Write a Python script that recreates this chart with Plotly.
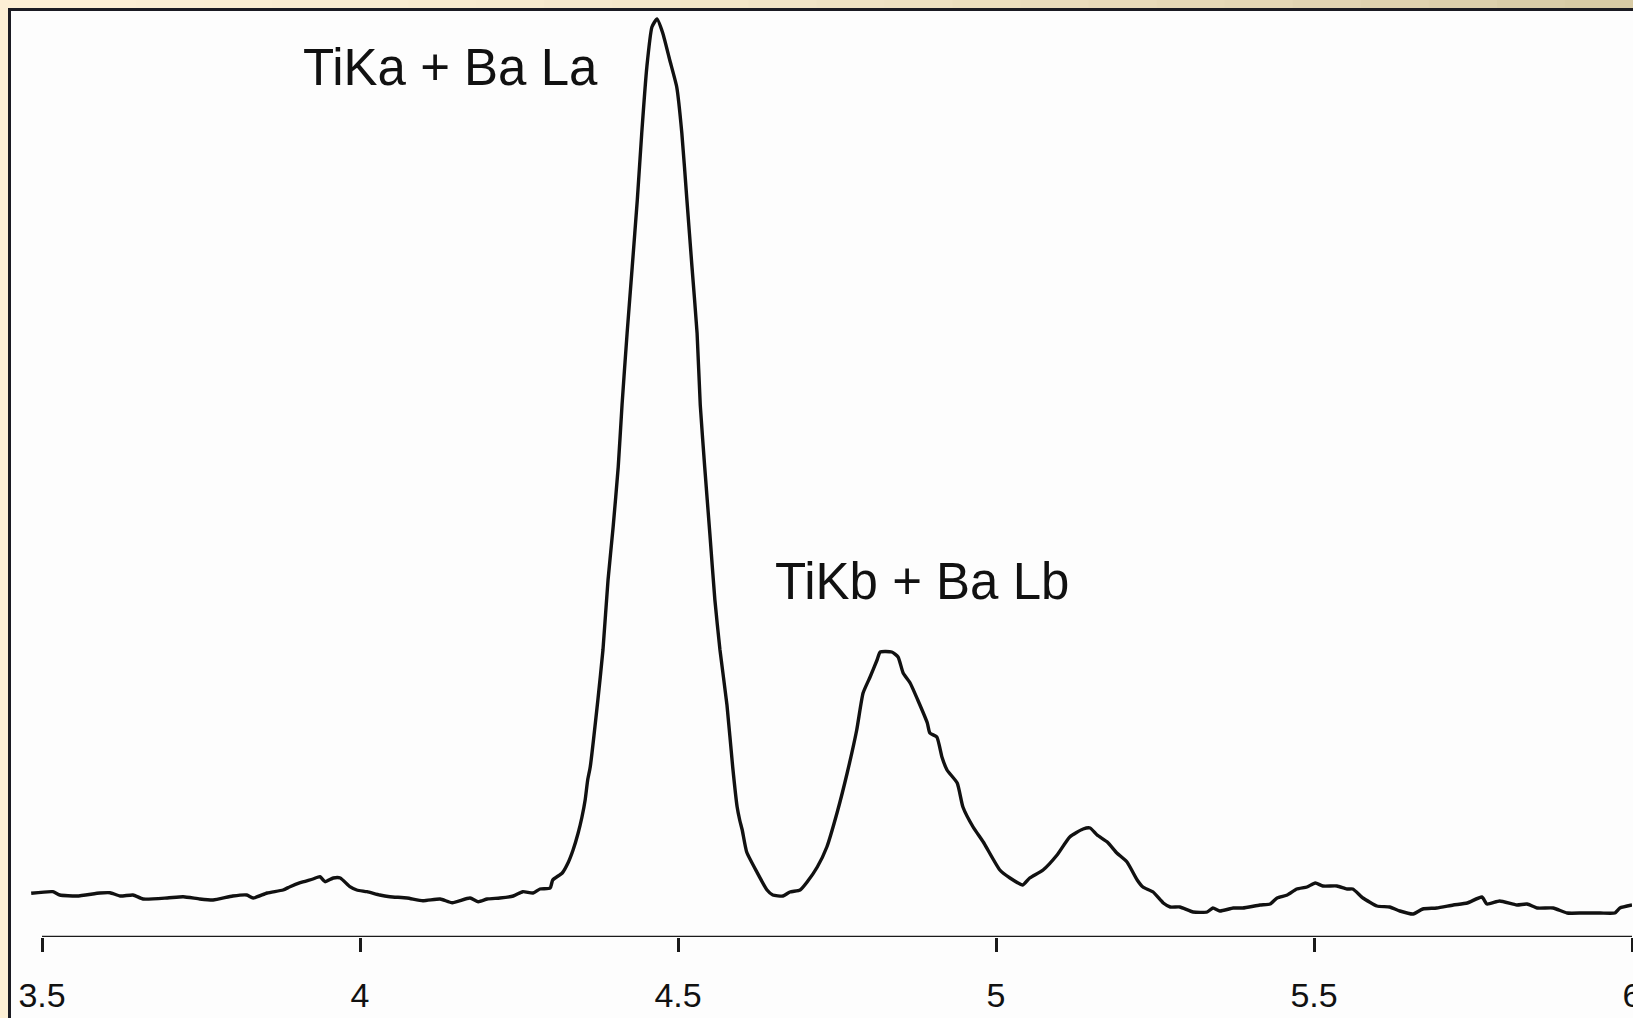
import plotly.graph_objects as go

# ---- data (energy in keV, intensity in arbitrary units) ----
energy_kev = [
    3.483, 3.517, 3.528, 3.555, 3.591, 3.607, 3.623, 3.643, 3.659, 3.697,
    3.722, 3.748, 3.769, 3.800, 3.822, 3.832, 3.854, 3.879, 3.890, 3.906,
    3.926, 3.937, 3.945, 3.958, 3.969, 3.984, 3.995, 4.011, 4.031, 4.047,
    4.074, 4.099, 4.126, 4.145, 4.173, 4.186, 4.200, 4.220, 4.241, 4.256,
    4.272, 4.283, 4.299, 4.303, 4.318, 4.327, 4.335, 4.343, 4.349, 4.354,
    4.358, 4.362, 4.374, 4.382, 4.390, 4.398, 4.406, 4.412, 4.420, 4.428,
    4.436, 4.443, 4.451, 4.459, 4.467, 4.476, 4.487, 4.498, 4.506, 4.514,
    4.522, 4.530, 4.535, 4.542, 4.550, 4.558, 4.566, 4.577, 4.586, 4.593,
    4.597, 4.601, 4.608, 4.624, 4.640, 4.649, 4.665, 4.676, 4.692, 4.703,
    4.719, 4.734, 4.750, 4.766, 4.781, 4.791, 4.802, 4.813, 4.818, 4.836,
    4.846, 4.854, 4.865, 4.877, 4.892, 4.896, 4.907, 4.915, 4.923, 4.939,
    4.948, 4.964, 4.980, 5.006, 5.022, 5.042, 5.053, 5.074, 5.096, 5.116,
    5.137, 5.148, 5.159, 5.175, 5.190, 5.206, 5.222, 5.231, 5.247, 5.263,
    5.274, 5.289, 5.310, 5.332, 5.341, 5.352, 5.373, 5.388, 5.415, 5.431,
    5.442, 5.458, 5.473, 5.489, 5.502, 5.514, 5.536, 5.552, 5.561, 5.577,
    5.599, 5.619, 5.635, 5.656, 5.671, 5.693, 5.719, 5.741, 5.764, 5.772,
    5.792, 5.819, 5.835, 5.851, 5.876, 5.898, 5.923, 5.950, 5.973, 5.981,
    6.000,
]
intensity = [
    43.7, 45.3, 42, 41, 44, 44.3, 41, 42, 38, 39,
    40.3, 38, 37, 41, 42, 39, 44, 47, 50.3, 54.3,
    58, 60.3, 55.3, 59, 59, 50.3, 47, 45.3, 42, 40.3,
    39, 36.3, 38, 34.3, 39, 35.3, 38, 39, 41, 45.3,
    44, 48, 49, 57, 64, 74, 87, 104, 120, 137,
    157, 170, 237, 287, 357, 410, 470, 532, 604, 670,
    737, 804, 870, 910, 918, 904, 877, 850, 804, 737,
    670, 604, 532, 470, 404, 337, 287, 232, 170, 130,
    117, 107, 85, 65, 47, 42, 41, 45, 47, 55,
    70, 90, 124, 164, 207, 244, 260, 277, 285, 285,
    280, 264, 254, 237, 214, 204, 200, 180, 167, 154,
    130, 110, 95, 67, 59, 52, 59, 67, 82, 100,
    108, 109, 102, 95, 84, 75, 57, 50, 45, 34,
    30, 30, 25, 25, 29, 26, 29, 29, 32, 33,
    39, 42, 48, 50, 54, 51, 51, 48, 48, 39,
    31, 30, 26, 23, 28, 29, 32, 34, 40, 33,
    36, 32, 33, 29, 29, 24, 24, 24, 24, 29,
    32,
]
tick_values = [3.5, 4.0, 4.5, 5.0, 5.5, 6.0]
tick_labels = ["3.5", "4", "4.5", "5", "5.5", "6"]
peak_labels = ["TiKa + Ba La", "TiKb + Ba Lb"]
peak_label_x = [4.1415, 4.8836]
peak_label_y = [870, 356]

# ---- layout geometry (pixels) ----
W, H = 1633, 1018
ML, MR, MT, MB = 31, 1, 10, 81
PW, PH = W - ML - MR, H - MT - MB
X_MIN, X_MAX = 3.4827, 6.0
Y_MIN, Y_MAX = 0, 927


def px_x(p):
    return (p - ML) / PW


def px_y(p):
    return (H - MB - p) / PH


CREAM = "#FCEFD5"
FONT = "Arial, Liberation Sans, sans-serif"

fig = go.Figure()
fig.add_trace(go.Scatter(
    x=energy_kev, y=intensity, mode="lines",
    line=dict(color="#111111", width=3.4, shape="spline", smoothing=0.5),
    hoverinfo="skip", showlegend=False,
))

shapes = []
# top strip gradient (cream to tan)
n = 24
c0 = (0xFC, 0xEF, 0xD5)
c1 = (0xD8, 0xCB, 0xA5)
for i in range(n):
    t = i / (n - 1)
    col = "rgb(%d,%d,%d)" % tuple(round(a + (b - a) * t ** 1.6) for a, b in zip(c0, c1))
    shapes.append(dict(type="rect", xref="paper", yref="paper", layer="below",
                       x0=px_x(W * i / n), x1=px_x(W * (i + 1) / n + 1),
                       y0=px_y(9), y1=px_y(-1), fillcolor=col, line=dict(width=0)))
# white panel with dark frame
shapes.append(dict(type="rect", xref="paper", yref="paper", layer="below",
                   x0=px_x(9.5), x1=px_x(W + 20), y0=px_y(H + 20), y1=px_y(9.5),
                   fillcolor="#FDFDFD", line=dict(color="#1b1b22", width=3)))
# x axis line from 3.5 to 6
shapes.append(dict(type="line", xref="x", yref="y", layer="above",
                   x0=tick_values[0], x1=tick_values[-1], y0=0, y1=0,
                   line=dict(color="#1a1a1a", width=2.5)))

for txt, x, y in zip(peak_labels, peak_label_x, peak_label_y):
    fig.add_annotation(x=x, y=y, xref="x", yref="y", text=txt, showarrow=False,
                       xanchor="center", yanchor="middle",
                       font=dict(family=FONT, size=51, color="#111111"))

fig.update_layout(
    width=W, height=H,
    margin=dict(l=ML, r=MR, t=MT, b=MB, pad=0, autoexpand=False),
    paper_bgcolor=CREAM, plot_bgcolor="rgba(0,0,0,0)",
    shapes=shapes, showlegend=False,
    xaxis=dict(range=[X_MIN, X_MAX], showgrid=False, zeroline=False, showline=False,
               automargin=False,
               tickmode="array", tickvals=tick_values, ticktext=tick_labels,
               ticks="outside", ticklen=14, tickwidth=2.5, tickcolor="#1a1a1a",
               ticklabelstandoff=14, ticklabeloverflow="allow",
               tickfont=dict(family=FONT, size=34, color="#111111")),
    yaxis=dict(range=[Y_MIN, Y_MAX], visible=False, showgrid=False, zeroline=False,
               automargin=False),
)

fig.write_html("out.html")
